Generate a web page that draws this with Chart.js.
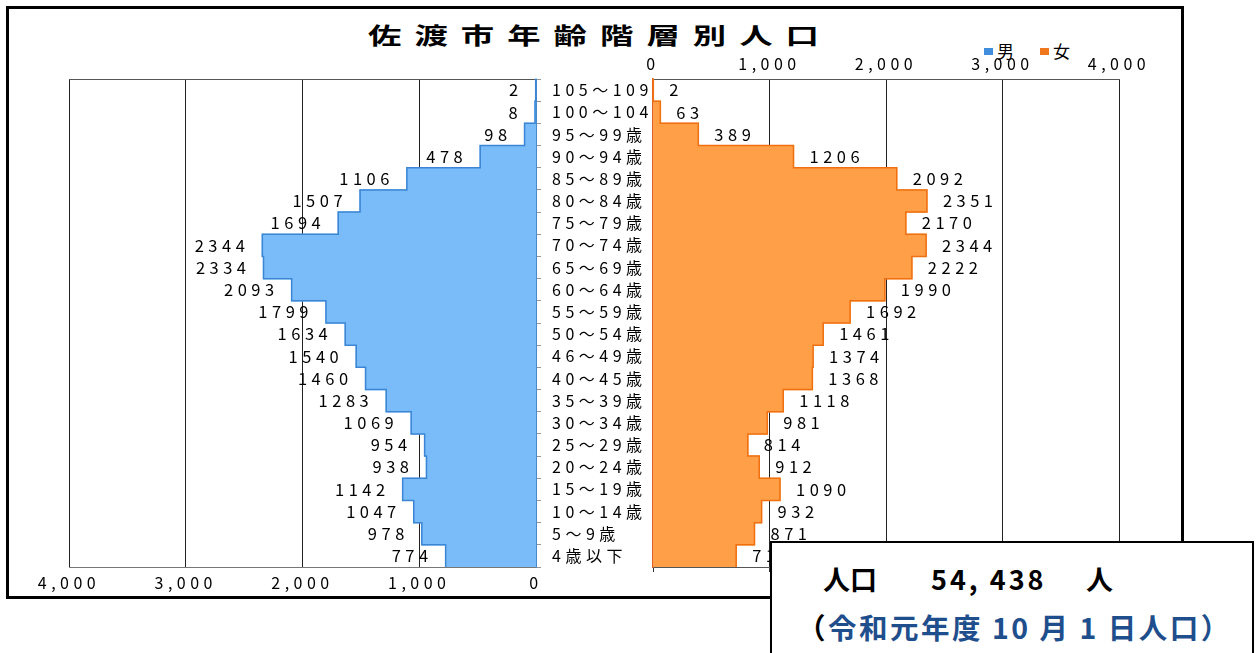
<!DOCTYPE html>
<html lang="ja">
<head>
<meta charset="utf-8">
<title>佐渡市年齢階層別人口</title>
<script src="https://cdn.jsdelivr.net/npm/chart.js@4.4.1/dist/chart.umd.min.js"></script>
<style>
  html, body { margin: 0; padding: 0; background: #fff; }
  body { width: 1257px; height: 653px; position: relative; overflow: hidden;
         font-family: "Noto Sans CJK JP", "Noto Sans", sans-serif; }
  #frame { position: absolute; left: 6px; top: 6px; width: 1172px; height: 587px; border: 3px solid #000; }
  #maleCanvas { position: absolute; left: 0; top: 0; }
  #femaleCanvas { position: absolute; left: 545px; top: 0; }
  #title { position: absolute; left: 368px; top: 17px; font-size: 23px; font-weight: 600;
           letter-spacing: 9px; white-space: nowrap; transform: scaleX(1.45); transform-origin: left center; }
  #legend { position: absolute; left: 984px; top: 38px; font-size: 17px; white-space: nowrap; }
  #legend span.sw { display: inline-block; width: 9px; height: 7px; margin-right: 4px; vertical-align: 3px; }
  #legend span.item { margin-right: 26px; }
  #info { position: absolute; left: 770px; top: 541px; width: 480px; height: 130px;
          border: 2px solid #000; background: #fff; z-index: 5; }
  #info .l1 { position: absolute; top: 16px; font-size: 27px; font-weight: 700; white-space: nowrap; }
  #info .l2 { position: absolute; left: 25px; top: 63px; font-size: 28.5px; font-weight: 700;
              letter-spacing: 2.5px; white-space: nowrap; color: #1f4e8c; }
</style>
</head>
<body>
<div id="frame"></div>
<div id="title">佐渡市年齢階層別人口</div>
<div id="legend"><span class="item"><span class="sw" style="background:#3f8ddc"></span>男</span><span><span class="sw" style="background:#f0771e"></span>女</span></div>
<canvas id="maleCanvas" width="548" height="610"></canvas>
<canvas id="femaleCanvas" width="640" height="610"></canvas>
<div id="info">
  <span class="l1" style="left:51px">人口</span>
  <span class="l1" style="left:159px; letter-spacing:3px">54, 438</span>
  <span class="l1" style="left:314px">人</span>
  <span class="l2"><span style="color:#000">（</span>令和元年度 10 月 1 日人口）</span>
</div>
<script>
// age groups, top row first (as in the picture)
const ageGroups = ["105～109歳", "100～104歳", "95～99歳", "90～94歳", "85～89歳", "80～84歳",
                   "75～79歳", "70～74歳", "65～69歳", "60～64歳", "55～59歳", "50～54歳",
                   "46～49歳", "40～45歳", "35～39歳", "30～34歳", "25～29歳", "20～24歳",
                   "15～19歳", "10～14歳", "5～9歳", "4歳以下"];
const maleCounts = [2, 8, 98, 478, 1106, 1507, 1694, 2344, 2334, 2093, 1799, 1634,
                    1540, 1460, 1283, 1069, 954, 938, 1142, 1047, 978, 774];
const femaleCounts = [2, 63, 389, 1206, 2092, 2351, 2170, 2344, 2222, 1990, 1692, 1461,
                      1374, 1368, 1118, 981, 814, 912, 1090, 932, 871, 714];
const axisMax = 4000;
const axisStep = 1000;

Chart.defaults.font.family = '"Noto Sans CJK JP", "Noto Sans", sans-serif';
Chart.defaults.color = "#000";

// wide lettering like the original sheet
const wideText = {
    id: "wideText",
    beforeDraw(chart) { chart.ctx.letterSpacing = "4.5px"; }
};

// stepped outline along the bar ends, then the numbers past each bar
const barDecor = {
    id: "barDecor",
    afterDatasetsDraw(chart, args, opts) {
        const ctx = chart.ctx;
        const bars = chart.getDatasetMeta(0).data;
        const values = chart.data.datasets[0].data;
        ctx.save();

        ctx.strokeStyle = opts.edge;
        ctx.lineWidth = 1.5;
        ctx.beginPath();
        bars.forEach((bar, i) => {
            const top = bar.y - bar.height / 2;
            const bottom = bar.y + bar.height / 2;
            if (i === 0) ctx.moveTo(bar.base, top);
            ctx.lineTo(bar.x, top);
            ctx.lineTo(bar.x, bottom);
        });
        ctx.stroke();

        ctx.font = '16.5px "Noto Sans CJK JP", "Noto Sans", sans-serif';
        ctx.fillStyle = "#000";
        ctx.textBaseline = "middle";
        ctx.textAlign = opts.side === "left" ? "right" : "left";
        bars.forEach((bar, i) => {
            let x = opts.side === "left" ? bar.x - 13 : bar.x + 16;
            ctx.fillText(String(values[i]), x, bar.y);
        });
        ctx.restore();
    }
};

function fixSize(prop, size) {
    return function (scale) {
        scale[prop] = size;
        scale.paddingLeft = 0;
        scale.paddingRight = 0;
        scale.paddingTop = 0;
        scale.paddingBottom = 0;
    };
}

// left half: men, axis reversed
new Chart(document.getElementById("maleCanvas"), {
    type: "bar",
    data: {
        labels: ageGroups,
        datasets: [{
            label: "男",
            data: maleCounts,
            backgroundColor: "rgb(122, 188, 250)",
            borderWidth: 0,
            inflateAmount: 0.6,
            barPercentage: 1,
            categoryPercentage: 1
        }]
    },
    options: {
        indexAxis: "y",
        responsive: false,
        animation: false,
        layout: { padding: { left: 69, right: 6, top: 79, bottom: 13 } },
        scales: {
            x: {
                position: "bottom",
                reverse: true,
                min: 0, max: axisMax,
                ticks: { stepSize: axisStep, padding: 6, font: { size: 16 } },
                grid: { color: "#222", drawTicks: false },
                border: { color: "#777" },
                afterFit: fixSize("height", 30)
            },
            xTop: {
                position: "top",
                type: "linear",
                min: 0, max: axisMax,
                ticks: { display: false },
                grid: { display: false },
                border: { color: "#555" },
                afterFit: fixSize("height", 0)
            },
            y: {
                position: "right",
                ticks: { display: false },
                grid: { drawOnChartArea: false, tickLength: 5, color: "#999" },
                border: { color: "#4a88cc" },
                afterFit: fixSize("width", 6)
            }
        },
        plugins: {
            legend: { display: false },
            tooltip: { enabled: false },
            barDecor: { side: "left", edge: "#3b86d4" }
        }
    },
    plugins: [wideText, barDecor]
});

// right half: women, age labels on its left axis
new Chart(document.getElementById("femaleCanvas"), {
    type: "bar",
    data: {
        labels: ageGroups,
        datasets: [{
            label: "女",
            data: femaleCounts,
            backgroundColor: "rgb(255, 160, 72)",
            borderWidth: 0,
            inflateAmount: 0.6,
            barPercentage: 1,
            categoryPercentage: 1
        }]
    },
    options: {
        indexAxis: "y",
        responsive: false,
        animation: false,
        layout: { padding: { left: 7, right: 66, top: 49, bottom: 37 } },
        scales: {
            x: {
                position: "top",
                min: 0, max: axisMax,
                ticks: { stepSize: axisStep, padding: 5, font: { size: 16 } },
                grid: { color: "#222", drawTicks: false },
                border: { color: "#555" },
                afterFit: fixSize("height", 30)
            },
            xBottom: {
                position: "bottom",
                type: "linear",
                min: 0, max: axisMax,
                ticks: { display: false, stepSize: axisStep },
                grid: { drawOnChartArea: false, tickLength: 5, color: "#333" },
                border: { color: "#555" },
                afterFit: fixSize("height", 6)
            },
            y: {
                position: "left",
                ticks: { crossAlign: "far", padding: 0, autoSkip: false, font: { size: 16 } },
                grid: { drawOnChartArea: false, drawTicks: false },
                border: { color: "#e0602a", width: 1.5 },
                afterFit: fixSize("width", 101)
            }
        },
        plugins: {
            legend: { display: false },
            tooltip: { enabled: false },
            barDecor: { side: "right", edge: "#f07010" }
        }
    },
    plugins: [wideText, barDecor]
});
</script>
</body>
</html>
